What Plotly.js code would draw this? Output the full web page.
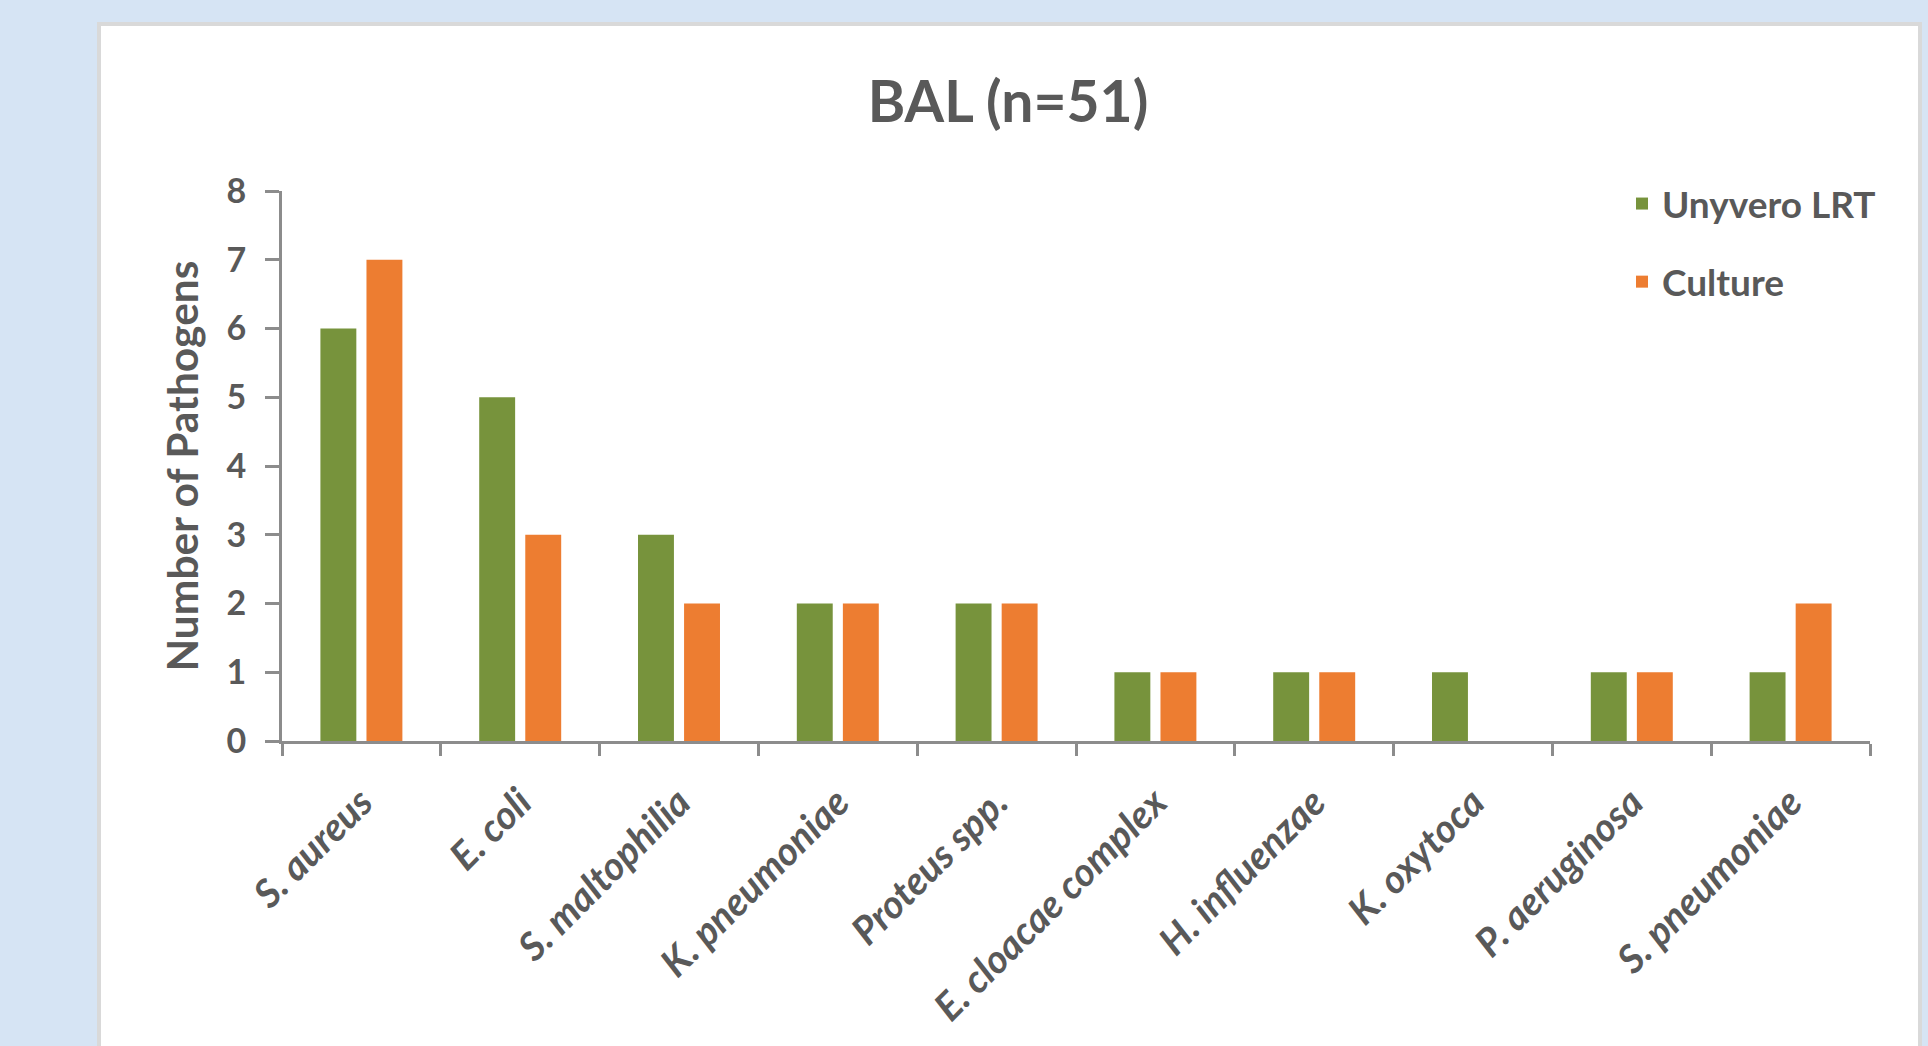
<!DOCTYPE html>
<html>
<head>
<meta charset="utf-8">
<script src="https://cdn.plot.ly/plotly-3.0.1.min.js"></script>
<style>
  html, body { margin: 0; padding: 0; background: #d6e4f4; }
  #chart { width: 1928px; height: 1046px; }
</style>
</head>
<body>
<div id="chart"></div>
<script>
// ---- data ----
const categories = ["S. aureus", "E. coli", "S. maltophilia", "K. pneumoniae", "Proteus spp.",
                    "E. cloacae complex", "H. influenzae", "K. oxytoca", "P. aeruginosa", "S. pneumoniae"];
const unyveroValues = [6, 5, 3, 2, 2, 1, 1, 1, 1, 1];
const cultureValues = [7, 3, 2, 2, 2, 1, 1, 0, 1, 2];
const seriesNames = ["Unyvero LRT", "Culture"];
const yTickValues = [0, 1, 2, 3, 4, 5, 6, 7, 8];
const chartTitle = "BAL (n=51)";
const yAxisTitle = "Number of Pathogens";

// ---- geometry (pixels) ----
const W = 1928, H = 1046;
const L = 282, R = 1870, T = 191, B = 741;
const px2x = p => (p - L) / (R - L);
const py2y = p => (B - p) / (B - T);

const txt = "#595959";
const axisCol = "#8c8c8c";
const FONT = "Lato, 'Open Sans', sans-serif";

const traces = [
  {
    type: "bar", name: seriesNames[0], x: categories, y: unyveroValues,
    legendgroup: "a",
    marker: { color: "#77933c", line: { width: 0 } },
    hoverinfo: "x+y"
  },
  {
    type: "bar", name: seriesNames[1], x: categories, y: cultureValues,
    legendgroup: "b",
    marker: { color: "#ed7d31", line: { width: 0 } },
    hoverinfo: "x+y"
  }
];

const layout = {
  width: W, height: H,
  paper_bgcolor: "#d6e4f4",
  plot_bgcolor: "rgba(0,0,0,0)",
  margin: { l: L, r: W - R, t: T, b: H - B, pad: 0 },
  barmode: "group",
  bargap: 0.42,
  bargroupgap: 0.22,
  title: {
    text: chartTitle,
    font: { family: FONT, size: 57, color: txt, weight: "bold" },
    xref: "container", yref: "container",
    x: 1008 / W, xanchor: "center",
    y: 1 - 102 / H, yanchor: "middle"
  },
  xaxis: {
    type: "category",
    showline: true, linecolor: axisCol, linewidth: 3,
    ticks: "outside", tickson: "boundaries", ticklen: 12, tickwidth: 3, tickcolor: axisCol,
    tickangle: -45,
    tickfont: { family: FONT, size: 39, color: txt, weight: "bold", style: "italic" },
    ticklabelstandoff: 20,
    showgrid: false, zeroline: false, fixedrange: true
  },
  yaxis: {
    range: [0, 8],
    tickvals: yTickValues,
    showline: true, linecolor: axisCol, linewidth: 3,
    ticks: "outside", ticklen: 14, tickwidth: 3, tickcolor: axisCol,
    tickfont: { family: FONT, size: 34, color: txt, weight: "bold" },
    ticklabelstandoff: 12,
    showgrid: false, zeroline: false, fixedrange: true,
    title: {
      text: yAxisTitle,
      font: { family: FONT, size: 42.5, color: txt, weight: "bold" },
      standoff: 15
    }
  },
  legend: {
    x: px2x(1622), xanchor: "left",
    y: py2y(173), yanchor: "top",
    bgcolor: "rgba(0,0,0,0)",
    font: { family: FONT, size: 37, color: txt, weight: "bold" },
    tracegroupgap: 27,
    traceorder: "grouped"
  },
  shapes: [
    {
      type: "rect", xref: "paper", yref: "paper", layer: "below",
      x0: px2x(99), x1: px2x(1920), y0: py2y(24), y1: py2y(1100),
      fillcolor: "#ffffff", line: { color: "#d9d9d9", width: 4 }
    }
  ],
  showlegend: true
};

Plotly.newPlot("chart", traces, layout, { displayModeBar: false });
</script>
</body>
</html>
